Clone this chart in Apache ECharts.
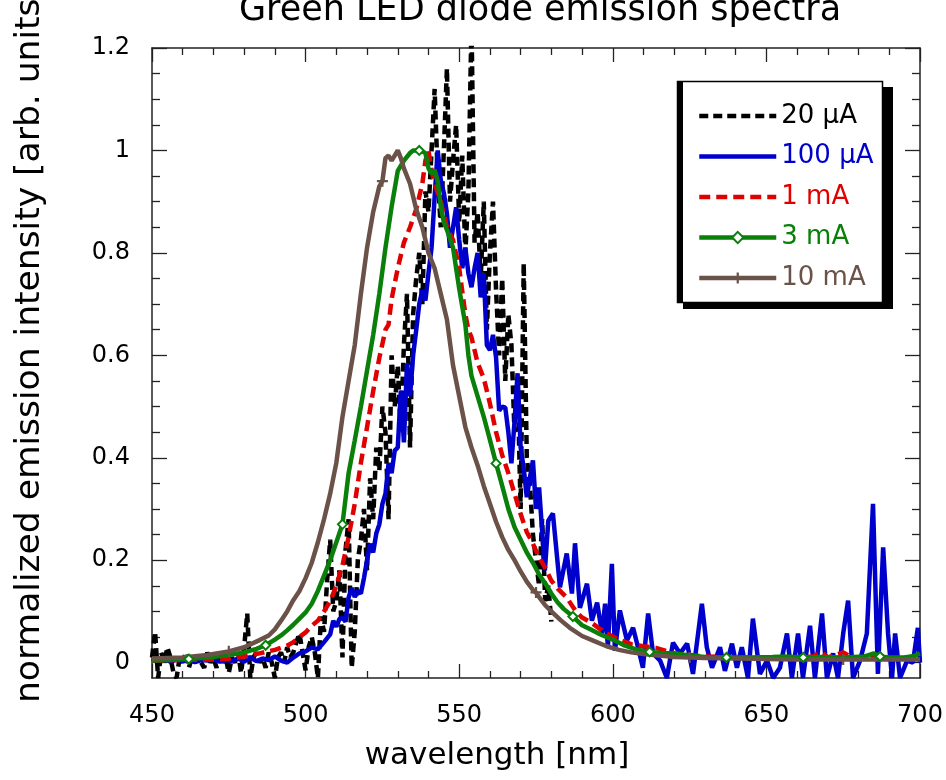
<!DOCTYPE html>
<html><head><meta charset="utf-8">
<script src="https://cdn.jsdelivr.net/npm/echarts@6/dist/echarts.min.js"></script>
<style>html,body{margin:0;padding:0;background:#fff;overflow:hidden}#c{width:946px;height:780px}</style>
</head><body><div id="c"></div>
<script>
// ---------- data ----------
const seriesNames = ['20 μA', '100 μA', '1 mA', '3 mA', '10 mA'];
const xTickLabels = [450, 500, 550, 600, 650, 700];
const yTickLabels = [0, 0.2, 0.4, 0.6, 0.8, 1, 1.2];

// 20 uA : 1 nm grid starting at 450 nm
const black20uA_start = 450;
const black20uA = [
 .01,.06,-.03,.02,0,.03,.01,-.02,-.03,.01,
 0,.02,-.01,.01,0,.01,0,-.01,.02,0,
 .01,-.01,.02,0,.01,-.02,.01,0,.02,-.02,
 .03,.096,-.03,.01,.02,0,.01,-.01,.02,0,
 -.03,.01,.02,0,.03,.01,.02,.04,.057,.02,
 -.015,.03,.05,.02,-.03,.09,.06,.16,.24,.1,
 .12,.18,.01,.22,.28,-.01,.06,.2,.24,.3,
 .18,.36,.28,.42,.375,.5,.45,.28,.6,.5,
 .58,.45,.62,.72,.42,.68,.75,.8,.7,.92,
 .88,1.0,1.12,.95,.85,1.0,1.16,.9,.98,1.05,
 .86,.99,.8,.92,1.25,.82,.88,.75,.9,.65,
 .8,.9,.727,.6,.75,.55,.68,.62,.45,.55,
 .3,.78,.4,.35,.25,.2,.15,.28,.12,.15,
 .08
];

// 100 uA
const blue100uA_x = [450,452,454,456,458,460,462,464,466,468,470,472,474,476,478,480,482,484,486,488,490,492,494,496,498,500,502,504,506,508,
 509,510,511,512,513,514,515,516,517,518,519,520,521,522,523,524,525,526,527,528,529,530,531,532,533,534,535,536,537,538,539,540,
 541,542,543,544,545,546,547,548,549,550,551,552,553,554,555,556,557,558,559,560,561,562,563,564,565,566,567,568,569,570,571,572,573,574,575,576,
 577.9,579,580.5,582.8,585,586.7,587.7,589.3,591.6,593.2,594.9,596.5,597.5,598.4,599.7,600.7,602.3,604.6,606.6,608.2,609.8,611.5,613.1,615.4,617.6,
 619.6,621.9,624.2,626.1,629,630.6,632.3,634.9,636.5,638.8,640.4,642,644,645.6,647.9,650.2,652.2,654.4,656.7,658.3,660.3,661.9,664.2,665.8,668.1,
 669.7,671.7,673.3,675,676.6,678.2,680.5,682.7,684.7,686.3,688,689.6,690.9,691.9,693.5,695.8,697.7,699.3,700];
const blue100uA_y = [.008,.004,.007,.002,.006,.003,.006,.001,.005,.004,.007,.002,.005,.003,.008,.002,.01,.003,.008,.005,.012,.004,0,.01,.018,.022,.03,.026,.04,.055,
 .082,.07,.085,.088,.08,.127,.146,.128,.14,.135,.165,.2,.232,.215,.252,.27,.31,.33,.389,.37,.414,.42,.531,.43,.584,.52,.6,.649,.7,.727,.707,.76,
 .81,.909,1.0,.942,.917,.877,.81,.85,.889,.825,.77,.81,.76,.733,.77,.8,.713,.76,.62,.61,.64,.596,.492,.5,.498,.45,.389,.47,.565,.42,.38,.323,.36,.395,.3,.342,
 .18,.277,.291,.147,.213,.135,.233,.107,.154,.082,.117,.057,.115,.03,.193,.023,.102,.043,.068,.03,-.01,.096,.018,.004,-.03,
 .039,.018,.037,-.022,.115,.03,-.01,.03,-.016,.037,-.01,.03,-.03,.086,-.022,.004,-.03,-.01,.057,-.03,.057,-.03,.072,-.03,.096,
 -.03,.018,-.03,.057,.121,-.03,.004,.057,.31,-.022,.225,.057,-.03,.057,-.03,.004,0,.068,0];

// 1 mA
const red1mA_x = [450,460,470,476,480,485,490,494,496,498,500,502,504,506,508,510,512,514,516,518,520,522,524,526,527,528,530,532,534,536,538,539,540,541,542,544,546,548,550,552,553,554,556,558,560,562,564,566,568,570,572,574,576,578,580,582,585,588,590,593,596,598,602,606,610,614,620,625,630,640,650,660,665,668,670,675,678,685,690,695,700];
const red1mA_y = [.004,.005,.006,.008,.012,.018,.025,.033,.04,.05,.059,.072,.082,.1,.12,.15,.19,.245,.31,.39,.46,.53,.595,.65,.66,.71,.77,.82,.85,.885,.935,.98,1.0,.96,.935,.9,.85,.825,.77,.68,.65,.635,.585,.555,.506,.45,.405,.37,.33,.29,.255,.232,.205,.185,.16,.145,.127,.1,.088,.078,.065,.057,.045,.036,.032,.029,.018,.015,.012,.01,.01,.009,.012,.02,.01,.02,.01,.01,.008,.01,.008];

// 3 mA
const green3mA_x = [450,455,462,468,474,480,484,487,490,492,494,496,498,500,502,504,506,508,510,512,514,516,518,520,522,524,526,528,530,532,534,535,537,539,540,541,542,543,544,545,546,548,550,552,553,554,556,558,560,562,564,566,568,570,572,574,576,578,580,582,584,587,590,593,596,600,604,608,612,616,620,625,630,637,645,652,656,662,668,675,682,685,687,690,695,698,700];
const green3mA_y = [.004,.005,.007,.01,.014,.02,.027,.034,.045,.053,.063,.074,.086,.098,.115,.14,.17,.2,.235,.27,.37,.434,.5,.57,.64,.72,.81,.89,.96,.98,.995,1.0,1.0,.995,.965,.955,.962,.94,.89,.86,.845,.81,.73,.66,.6,.56,.52,.48,.435,.389,.345,.3,.265,.24,.215,.195,.172,.155,.135,.118,.105,.09,.073,.064,.055,.045,.033,.025,.021,.019,.018,.014,.011,.01,.01,.011,.012,.01,.011,.01,.012,.018,.012,.01,.01,.013,.018];

// 10 mA
const brown10mA_x = [450,460,468,475,480,485,488,490,492,494,496,498,500,502,504,506,508,510,512,514,516,518,520,522,524,525,526,527,528,529,530,531,532,534,536,538,540,542,544,546,548,550,552,554,556,558,560,562,564,566,568,570,572,574,575,576,578,580,583,586,590,594,598,602,606,610,615,620,625,630,640,650,660,675,690,700];
const brown10mA_y = [.008,.01,.015,.022,.03,.044,.053,.065,.082,.1,.122,.14,.165,.195,.235,.28,.33,.39,.48,.55,.62,.72,.81,.88,.93,.94,.985,.99,.98,.99,1.0,.985,.965,.935,.885,.85,.8,.77,.72,.67,.58,.52,.46,.42,.385,.345,.31,.275,.245,.22,.2,.178,.158,.142,.137,.128,.112,.1,.083,.068,.052,.042,.032,.025,.02,.017,.014,.011,.01,.009,.008,.007,.006,.006,.006,.006];

// wavelengths where the plotted curves carry a marker symbol
const green3mA_markers = [462,487,512,537,562,587,612,637,662,687];
const brown10mA_markers = [475,525,575,625,675];

// ---------- build ----------
const FONT = 'DejaVu Sans';
const colors = ['#000000', '#0000cc', '#e00000', '#0a800a', '#6b5249'];
const LW = 4.5;

function pairs(xs, ys, markers) {
  return xs.map((x, i) => {
    const item = { value: [x, ys[i]] };
    if (!markers || markers.indexOf(x) < 0) item.symbol = 'none';
    return item;
  });
}
const blackData = black20uA.map((v, i) => ({ value: [black20uA_start + i, v], symbol: 'none' }));

const yMinor = [];
for (let k = 1; k <= 24; k++) if (k % 4) yMinor.push(+(k * 0.05).toFixed(2));

const axisLineStyle = { color: '#222', width: 1.5 };
const tickStyle = { color: '#222', width: 1.3 };

function xAxisDef(pos, withLabels) {
  const a = {
    type: 'value', position: pos, min: 450, max: 700, interval: 50,
    axisLine: { show: true, onZero: false, lineStyle: axisLineStyle },
    axisTick: { show: true, inside: true, length: 14, lineStyle: tickStyle },
    minorTick: { show: true, splitNumber: 5, length: 7, lineStyle: tickStyle },
    splitLine: { show: false }, minorSplitLine: { show: false },
    axisLabel: { show: withLabels, fontFamily: FONT, fontSize: 24, color: '#000', margin: 26 }
  };
  if (withLabels) {
    a.name = 'wavelength [nm]';
    a.nameLocation = 'middle';
    a.nameGap = 62;
    a.nameTextStyle = { fontFamily: FONT, fontSize: 31, color: '#000', padding: [0, 78, 0, 0] };
  }
  return a;
}
function yAxisDef(pos, major, withLabels) {
  const a = {
    type: 'value', position: pos, min: -0.03, max: 1.2,
    axisLine: { show: major, onZero: false, lineStyle: axisLineStyle },
    axisTick: { show: true, inside: true, length: major ? 15 : 8, lineStyle: tickStyle, customValues: major ? yTickLabels : yMinor },
    splitLine: { show: false },
    axisLabel: { show: withLabels, fontFamily: FONT, fontSize: 24, color: '#000', margin: 22,
      customValues: yTickLabels, formatter: v => String(Math.round(v * 10) / 10) }
  };
  if (withLabels) {
    a.name = 'normalized emission intensity [arb. units]';
    a.nameLocation = 'middle';
    a.nameGap = 104;
    a.nameTextStyle = { fontFamily: FONT, fontSize: 34.5, color: '#000', padding: [0, 0, 0, 38] };
  }
  return a;
}

const plusPath = 'path://M4 0h2v4h4v2h-4v4h-2v-4h-4v-2h4z';
const hiddenDot = { opacity: 0 };

const option = {
  animation: false,
  backgroundColor: '#fff',
  title: {
    text: 'Green LED diode emission spectra', left: 239, top: -7, padding: 0,
    textStyle: { fontFamily: FONT, fontSize: 35, fontWeight: 'normal', color: '#000' }
  },
  grid: { left: 152, right: 26, top: 48, bottom: 102, show: false, containLabel: false, outerBoundsMode: 'none' },
  xAxis: [xAxisDef('bottom', true), xAxisDef('top', false)],
  yAxis: [yAxisDef('left', true, true), yAxisDef('left', false, false), yAxisDef('right', true, false), yAxisDef('right', false, false)],
  legend: {
    orient: 'vertical', left: 697, top: 101, itemWidth: 77, itemHeight: 14, itemGap: 10.5, padding: 0,
    selectedMode: false, z: 6,
    lineStyle: { width: LW },
    textStyle: { fontFamily: FONT, fontSize: 26, lineHeight: 30 },
    data: seriesNames.map((n, i) => {
      const d = { name: n, textStyle: { color: colors[i] } };
      if (i < 3) d.itemStyle = hiddenDot;
      return d;
    })
  },
  graphic: [
    { type: 'rect', z: 3, shape: { x: 683, y: 87, width: 210, height: 222 }, style: { fill: '#000' } },
    { type: 'rect', z: 3, shape: { x: 677.5, y: 81.5, width: 205, height: 221 }, style: { fill: '#fff', stroke: '#000', lineWidth: 1.5 } },
    { type: 'rect', z: 3, shape: { x: 677, y: 81, width: 6, height: 222 }, style: { fill: '#000' } }
  ],
  series: [
    { name: seriesNames[0], type: 'line', data: blackData, symbol: 'none', showSymbol: true, clip: true,
      lineStyle: { color: colors[0], width: LW, type: [9, 5] }, itemStyle: { color: colors[0] }, emphasis: { disabled: true } },
    { name: seriesNames[1], type: 'line', data: pairs(blue100uA_x, blue100uA_y), symbol: 'none', showSymbol: true, clip: true,
      lineStyle: { color: colors[1], width: LW }, itemStyle: { color: colors[1] }, emphasis: { disabled: true } },
    { name: seriesNames[2], type: 'line', data: pairs(red1mA_x, red1mA_y), symbol: 'none', showSymbol: true, clip: true,
      lineStyle: { color: colors[2], width: LW, type: [11, 6] }, itemStyle: { color: colors[2] }, emphasis: { disabled: true } },
    { name: seriesNames[3], type: 'line', data: pairs(green3mA_x, green3mA_y, green3mA_markers), symbol: 'emptyDiamond', symbolSize: 9, showSymbol: true, clip: true,
      lineStyle: { color: colors[3], width: LW }, itemStyle: { color: colors[3], borderWidth: 1 }, emphasis: { disabled: true } },
    { name: seriesNames[4], type: 'line', data: pairs(brown10mA_x, brown10mA_y, brown10mA_markers), symbol: plusPath, symbolSize: 11, showSymbol: true, clip: true,
      lineStyle: { color: colors[4], width: LW }, itemStyle: { color: colors[4] }, emphasis: { disabled: true } }
  ]
};

const chart = echarts.init(document.getElementById('c'), null, { renderer: 'canvas' });
chart.setOption(option);
</script>
</body></html>
